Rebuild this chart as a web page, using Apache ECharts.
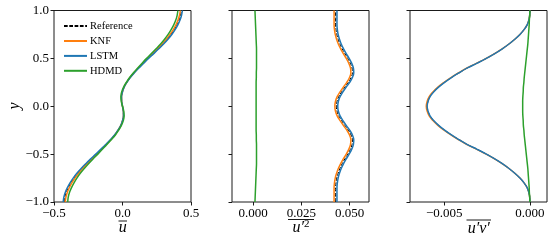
<!DOCTYPE html>
<html>
<head>
<meta charset="utf-8">
<script src="https://cdn.jsdelivr.net/npm/echarts@6/dist/echarts.min.js"></script>
<style>
html,body{margin:0;padding:0;background:#fff;}
#chart{width:553px;height:244px;}
</style>
</head>
<body>
<div id="chart"></div>
<script>
// wall-normal coordinate y (shared by all panels)
const yPos = [-1.00,-0.95,-0.90,-0.85,-0.80,-0.75,-0.70,-0.65,-0.60,-0.55,-0.50,-0.45,-0.40,-0.35,-0.30,-0.25,-0.20,-0.15,-0.10,-0.05,0.00,
  0.05,0.10,0.15,0.20,0.25,0.30,0.35,0.40,0.45,0.50,0.55,0.60,0.65,0.70,0.75,0.80,0.85,0.90,0.95,1.00];

const seriesNames = ['Reference','KNF','LSTM','HDMD'];

// Panel 1: mean velocity u
const uRef  = [-0.426,-0.421,-0.411,-0.395,-0.377,-0.354,-0.327,-0.297,-0.264,-0.228,-0.192,-0.156,-0.121,-0.088,-0.057,-0.033,-0.012,0.000,0.007,0.006,0.000,-0.006,-0.007,0.000,0.012,0.032,0.056,0.086,0.118,0.153,0.187,0.224,0.261,0.295,0.326,0.354,0.378,0.397,0.413,0.424,0.430];
const uKNF  = [-0.418,-0.413,-0.403,-0.388,-0.370,-0.347,-0.321,-0.291,-0.259,-0.224,-0.188,-0.153,-0.119,-0.086,-0.056,-0.032,-0.012,0.000,0.007,0.006,0.000,-0.006,-0.007,0.000,0.011,0.031,0.055,0.084,0.116,0.150,0.183,0.220,0.256,0.289,0.320,0.347,0.371,0.390,0.405,0.416,0.422];
const uLSTM = [-0.433,-0.428,-0.418,-0.402,-0.383,-0.360,-0.333,-0.302,-0.268,-0.232,-0.195,-0.159,-0.123,-0.089,-0.058,-0.033,-0.012,0.000,0.007,0.006,0.000,-0.006,-0.007,0.000,0.012,0.032,0.057,0.087,0.120,0.155,0.190,0.228,0.265,0.300,0.332,0.360,0.384,0.404,0.420,0.431,0.437];
const uHDMD = [-0.400,-0.396,-0.387,-0.372,-0.354,-0.333,-0.308,-0.279,-0.248,-0.215,-0.180,-0.147,-0.114,-0.082,-0.052,-0.028,-0.008,0.006,0.012,0.009,0.000,-0.009,-0.012,-0.006,0.008,0.028,0.052,0.080,0.111,0.143,0.176,0.211,0.245,0.278,0.307,0.333,0.355,0.374,0.389,0.399,0.404];

// Panel 2: u'^2
const uuRef  = [0.0427,0.0427,0.0427,0.0427,0.0429,0.0433,0.0440,0.0449,0.0461,0.0475,0.0490,0.0503,0.0512,0.0514,0.0507,0.0493,0.0475,0.0458,0.0443,0.0434,0.0431,0.0434,0.0443,0.0458,0.0475,0.0493,0.0507,0.0514,0.0512,0.0503,0.0490,0.0475,0.0461,0.0449,0.0440,0.0433,0.0429,0.0427,0.0427,0.0427,0.0427];
const uuKNF  = [0.0419,0.0419,0.0419,0.0419,0.0421,0.0425,0.0432,0.0441,0.0453,0.0467,0.0482,0.0495,0.0504,0.0506,0.0499,0.0485,0.0467,0.0450,0.0435,0.0426,0.0423,0.0426,0.0435,0.0450,0.0467,0.0485,0.0499,0.0506,0.0504,0.0495,0.0482,0.0467,0.0453,0.0441,0.0432,0.0425,0.0421,0.0419,0.0419,0.0419,0.0419];
const uuLSTM = [0.0434,0.0434,0.0434,0.0434,0.0436,0.0440,0.0447,0.0456,0.0468,0.0482,0.0497,0.0510,0.0519,0.0521,0.0514,0.0500,0.0482,0.0465,0.0450,0.0441,0.0438,0.0441,0.0450,0.0465,0.0482,0.0500,0.0514,0.0521,0.0519,0.0510,0.0497,0.0482,0.0468,0.0456,0.0447,0.0440,0.0436,0.0434,0.0434,0.0434,0.0434];
const uuHDMD = [0.0009,0.0010,0.0011,0.0012,0.0013,0.0014,0.0015,0.0016,0.0017,0.0017,0.0017,0.0017,0.0017,0.0016,0.0016,0.0015,0.0015,0.0015,0.0015,0.0015,0.0015,0.0015,0.0015,0.0015,0.0015,0.0015,0.0016,0.0016,0.0017,0.0017,0.0017,0.0017,0.0017,0.0016,0.0015,0.0014,0.0013,0.0012,0.0011,0.0010,0.0009];

// Panel 3: u'v'
const uvRef  = [0,-0.00001,-0.00006,-0.00016,-0.00034,-0.00058,-0.00088,-0.00122,-0.00161,-0.00205,-0.00254,-0.00308,-0.00365,-0.00413,-0.00458,-0.00498,-0.00533,-0.00562,-0.00583,-0.00595,-0.00600,-0.00595,-0.00583,-0.00562,-0.00533,-0.00498,-0.00458,-0.00413,-0.00365,-0.00308,-0.00254,-0.00205,-0.00161,-0.00122,-0.00088,-0.00058,-0.00034,-0.00016,-0.00006,-0.00001,0];
const uvKNF  = [0,-0.00001,-0.00006,-0.00016,-0.00034,-0.00058,-0.00088,-0.00122,-0.00162,-0.00206,-0.00255,-0.00310,-0.00367,-0.00415,-0.00461,-0.00501,-0.00537,-0.00566,-0.00588,-0.00600,-0.00605,-0.00600,-0.00588,-0.00566,-0.00537,-0.00501,-0.00461,-0.00415,-0.00367,-0.00310,-0.00255,-0.00206,-0.00162,-0.00122,-0.00088,-0.00058,-0.00034,-0.00016,-0.00006,-0.00001,0];
const uvLSTM = [0,-0.00001,-0.00006,-0.00016,-0.00034,-0.00058,-0.00088,-0.00122,-0.00161,-0.00205,-0.00254,-0.00308,-0.00365,-0.00413,-0.00458,-0.00498,-0.00533,-0.00562,-0.00583,-0.00595,-0.00600,-0.00595,-0.00583,-0.00562,-0.00533,-0.00498,-0.00458,-0.00413,-0.00365,-0.00308,-0.00254,-0.00205,-0.00161,-0.00122,-0.00088,-0.00058,-0.00034,-0.00016,-0.00006,-0.00001,0];
const uvHDMD = [0,-0.00001,-0.00003,-0.00004,-0.00006,-0.00008,-0.00010,-0.00012,-0.00015,-0.00018,-0.00021,-0.00024,-0.00027,-0.00030,-0.00033,-0.00035,-0.00038,-0.00039,-0.00041,-0.00042,-0.00042,-0.00042,-0.00041,-0.00039,-0.00038,-0.00035,-0.00033,-0.00030,-0.00027,-0.00024,-0.00021,-0.00018,-0.00015,-0.00012,-0.00010,-0.00008,-0.00006,-0.00004,-0.00003,-0.00001,0];

// ticks
const yTicks  = [-1, -0.5, 0, 0.5, 1];
const x1Ticks = [-0.5, 0, 0.5];
const x2Ticks = [0, 0.025, 0.05];
const x3Ticks = [-0.005, 0];

const colors = {Reference:'#000000', KNF:'#ff7f0e', LSTM:'#1f77b4', HDMD:'#2ca02c'};
const FONT = "'Liberation Serif','DejaVu Serif',serif";
const AX = '#1a1a1a';

function fmt(d){ return v => (v < 0 ? '\u2212' : '') + Math.abs(v).toFixed(d); }

const grids = [
  {left:54,  top:10.5, width:137, height:191.5},
  {left:232, top:10.5, width:137, height:191.5},
  {left:410, top:10.5, width:137, height:191.5}
].map(g => Object.assign(g, {show:true, borderColor:AX, borderWidth:1, backgroundColor:'transparent', containLabel:false}));

function xAxisDef(i, min, max, ticks, dec){
  return {type:'value', gridIndex:i, min:min, max:max, position:'bottom',
    axisLine:{show:false, onZero:false}, splitLine:{show:false},
    axisTick:{show:true, inside:false, length:3.5, lineStyle:{color:AX, width:1}, customValues:ticks},
    axisLabel:{show:true, customValues:ticks, formatter:fmt(dec), margin:5, color:'#000', fontFamily:FONT, fontSize:13}};
}
function yAxisDef(i, showLabels){
  return {type:'value', gridIndex:i, min:-1, max:1, position:'left',
    axisLine:{show:false, onZero:false}, splitLine:{show:false},
    axisTick:{show:true, inside:false, length:3.5, lineStyle:{color:AX, width:1}, customValues:yTicks},
    axisLabel:{show:showLabels, customValues:yTicks, formatter:fmt(1), margin:5, color:'#000', fontFamily:FONT, fontSize:13}};
}

const panels = [
  {ref:uRef,  knf:uKNF,  lstm:uLSTM,  hdmd:uHDMD},
  {ref:uuRef, knf:uuKNF, lstm:uuLSTM, hdmd:uuHDMD},
  {ref:uvRef, knf:uvKNF, lstm:uvLSTM, hdmd:uvHDMD}
];

const series = [];
panels.forEach((p, i) => {
  const sets = [['Reference', p.ref], ['KNF', p.knf], ['LSTM', p.lstm], ['HDMD', p.hdmd]];
  sets.forEach(([name, xs]) => {
    const isRef = name === 'Reference';
    series.push({
      type:'line', name:name, xAxisIndex:i, yAxisIndex:i,
      data: xs.map((v, k) => [v, yPos[k]]),
      symbol:'none', showSymbol:false, smooth:0.4, clip:true, silent:true,
      lineStyle:{color:colors[name], width:isRef ? 1 : 1.5, type:isRef ? [3.7,1.6] : 'solid'},
      itemStyle:{color:colors[name]},
      z: 2
    });
  });
});

const chart = echarts.init(document.getElementById('chart'), null, {renderer:'canvas'});
chart.setOption({
  animation:false,
  backgroundColor:'#ffffff',
  grid: grids,
  xAxis: [xAxisDef(0, -0.5, 0.5, x1Ticks, 1), xAxisDef(1, -0.011, 0.06, x2Ticks, 3), xAxisDef(2, -0.007, 0.001, x3Ticks, 3)],
  yAxis: [yAxisDef(0, true), yAxisDef(1, false), yAxisDef(2, false)],
  legend: {
    data: seriesNames, orient:'vertical', left:58, top:15.5,
    itemWidth:23, itemHeight:14, itemGap:3.7, selectedMode:false,
    itemStyle:{opacity:0},
    textStyle:{fontFamily:FONT, fontSize:10.5, color:'#000', padding:[0,0,0,-2]}
  },
  series: series,
  graphic: [
    {type:'text', x:15, y:106, rotation:Math.PI/2, style:{text:'y', font:"italic 16px " + FONT, fill:'#000', align:'center', verticalAlign:'middle'}},
    {type:'text', x:122.7, y:228, style:{text:'u', font:"italic 16px " + FONT, fill:'#000', align:'center', verticalAlign:'middle'}},
    {type:'line', shape:{x1:118.5, y1:221, x2:127, y2:221}, style:{stroke:'#000', lineWidth:0.9}},
    {type:'text', x:301, y:228, style:{text:'{a|u\u2032}{b|2}', font:"italic 16px " + FONT, fill:'#000', align:'center', verticalAlign:'middle',
      rich:{a:{font:"italic 16px " + FONT, fill:'#000'}, b:{font:"11px " + FONT, fill:'#000', verticalAlign:'top', padding:[0,0,7,0]}}}},
    {type:'line', shape:{x1:288, y1:219.5, x2:314, y2:219.5}, style:{stroke:'#000', lineWidth:0.9}},
    {type:'text', x:478.7, y:229, style:{text:'u\u2032v\u2032', font:"italic 16px " + FONT, fill:'#000', align:'center', verticalAlign:'middle'}},
    {type:'line', shape:{x1:466.5, y1:220, x2:491, y2:220}, style:{stroke:'#000', lineWidth:0.9}}
  ]
});
</script>
</body>
</html>
